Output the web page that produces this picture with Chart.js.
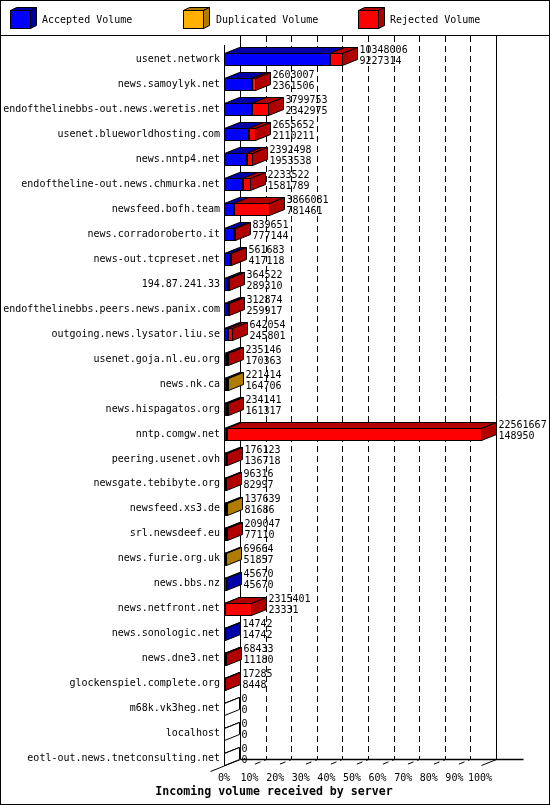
<!DOCTYPE html>
<html>
<head>
<meta charset="utf-8">
<script src="https://cdn.jsdelivr.net/npm/chart.js@4/dist/chart.umd.min.js"></script>
<style>
html,body{margin:0;padding:0;background:#fff;}
canvas{display:block;}
</style>
</head>
<body>
<canvas id="c" width="550" height="805"></canvas>
<script>
const servers = [
  "usenet.network",
  "news.samoylyk.net",
  "endofthelinebbs-out.news.weretis.net",
  "usenet.blueworldhosting.com",
  "news.nntp4.net",
  "endoftheline-out.news.chmurka.net",
  "newsfeed.bofh.team",
  "news.corradoroberto.it",
  "news-out.tcpreset.net",
  "194.87.241.33",
  "endofthelinebbs.peers.news.panix.com",
  "outgoing.news.lysator.liu.se",
  "usenet.goja.nl.eu.org",
  "news.nk.ca",
  "news.hispagatos.org",
  "nntp.comgw.net",
  "peering.usenet.ovh",
  "newsgate.tebibyte.org",
  "newsfeed.xs3.de",
  "srl.newsdeef.eu",
  "news.furie.org.uk",
  "news.bbs.nz",
  "news.netfront.net",
  "news.sonologic.net",
  "news.dne3.net",
  "glockenspiel.complete.org",
  "m68k.vk3heg.net",
  "localhost",
  "eotl-out.news.tnetconsulting.net"
];
const offered = [10348006, 2603007, 3799753, 2655652, 2392498, 2233522, 3866081, 839651, 561683, 364522,
  312874, 642054, 235146, 221414, 234141, 22561667, 176123, 96316, 137639, 209047,
  69664, 45670, 2315401, 14742, 68433, 17285, 0, 0, 0];
const accepted = [9227314, 2361506, 2342975, 2110211, 1953538, 1581789, 781461, 777144, 417118, 289310,
  259917, 245801, 170363, 164706, 161317, 148950, 136718, 82997, 81686, 77110,
  51857, 45670, 23331, 14742, 11180, 8448, 0, 0, 0];
const duplicated = [0, 0, 0, 0, 0, 0, 0, 0, 0, 0,
  0, 0, 0, 56708, 0, 0, 0, 0, 55953, 0,
  17807, 0, 0, 0, 0, 0, 0, 0, 0];
const rejected = [1120692, 241501, 1456778, 545441, 438960, 651733, 3084620, 62507, 144565, 75212,
  52957, 396253, 64783, 0, 72824, 22412717, 39405, 13319, 0, 131937,
  0, 0, 2292070, 0, 57253, 8837, 0, 0, 0];
const seriesNames = ["Accepted Volume", "Duplicated Volume", "Rejected Volume"];
const xTickLabels = ["0%", "10%", "20%", "30%", "40%", "50%", "60%", "70%", "80%", "90%", "100%"];
const axisTitle = "Incoming volume received by server";

const FRONT = ["#0000ff", "#ffb000", "#ff0000"];
const DARK = ["#0000a8", "#b07c00", "#b00000"];
const MONO = "10px 'DejaVu Sans Mono', monospace";
const XMAX = Math.max(...offered);
const DX = 15, DY = -6, HALF = 6;

function poly(ctx, pts, fill) {
  ctx.beginPath();
  ctx.moveTo(pts[0][0], pts[0][1]);
  for (let i = 1; i < pts.length; i++) ctx.lineTo(pts[i][0], pts[i][1]);
  ctx.closePath();
  if (fill) { ctx.fillStyle = fill; ctx.fill(); }
  ctx.strokeStyle = "#000";
  ctx.lineWidth = 1;
  ctx.stroke();
}
function line(ctx, x1, y1, x2, y2, w, dash) {
  ctx.save();
  ctx.beginPath();
  ctx.setLineDash(dash || []);
  ctx.lineWidth = w || 1;
  ctx.strokeStyle = "#000";
  ctx.moveTo(x1, y1); ctx.lineTo(x2, y2);
  ctx.stroke();
  ctx.restore();
}
const r = v => Math.round(v) + 0.5;

const deco = {
  id: "deco",
  beforeDraw(chart) {
    const ctx = chart.ctx;
    ctx.save();
    ctx.fillStyle = "#fff";
    ctx.fillRect(0, 0, chart.width, chart.height);
    ctx.restore();
  },
  beforeDatasetsDraw(chart) {
    const ctx = chart.ctx, xs = chart.scales.x, ys = chart.scales.y;
    const n = servers.length;
    const x0 = r(xs.getPixelForValue(0));
    const x100 = r(xs.getPixelForValue(XMAX));
    const floorF = Math.round(ys.getPixelForValue(n - 1) + HALF) + 0.5;
    const floorB = floorF + DY;
    const wallTop = 36;
    ctx.save();
    // dashed grid on back wall and floor
    for (let k = 1; k < 10; k++) {
      const xf = r(xs.getPixelForValue(XMAX * k / 10));
      const xb = xf + DX;
      ctx.save();
      ctx.beginPath();
      ctx.setLineDash([6, 4]);
      ctx.strokeStyle = "#000";
      ctx.lineWidth = 1;
      ctx.moveTo(xb, wallTop); ctx.lineTo(xb, floorB); ctx.lineTo(xf, floorF);
      ctx.stroke();
      ctx.restore();
    }
    // back wall, right wall, front left axis
    line(ctx, x0 + DX, wallTop, x0 + DX, floorB);
    line(ctx, x100 + DX, wallTop, x100 + DX, floorB);
    line(ctx, x0 - 1, 45, x0 - 1, floorF);
    // floor back line
    line(ctx, x0 + DX, floorB, x100 + DX + 27, floorB, 1.5);
    // floor edges
    line(ctx, x0 + DX, floorB, x0 - DX, floorF - DY);
    line(ctx, x100 + DX, floorB, x100, floorF);
    // x tick labels
    ctx.fillStyle = "#000";
    ctx.font = MONO;
    ctx.textAlign = "center";
    ctx.textBaseline = "middle";
    for (let k = 0; k <= 10; k++) {
      const xf = xs.getPixelForValue(XMAX * k / 10);
      ctx.fillText(xTickLabels[k], xf - 1, floorF + 12.5);
    }
    ctx.font = "bold 11.6px 'DejaVu Sans Mono', monospace";
    ctx.fillText(axisTitle, 274, floorF + 26.5);
    ctx.restore();
  },
  afterDatasetsDraw(chart) {
    const ctx = chart.ctx, xs = chart.scales.x, ys = chart.scales.y;
    const n = servers.length;
    const sets = [accepted, duplicated, rejected];
    ctx.save();
    for (let i = 0; i < n; i++) {
      const c = ys.getPixelForValue(i);
      const top = Math.round(c - HALF) + 0.5, bot = Math.round(c + HALF) + 0.5;
      let end = r(xs.getPixelForValue(0)) - 1;
      let last = -1;
      for (let d = 0; d < 3; d++) {
        if (sets[d][i] <= 0) continue;
        const el = chart.getDatasetMeta(d).data[i];
        const a = Math.round(Math.min(el.base, el.x)) - 0.5;
        const b = Math.round(Math.max(el.base, el.x)) + 0.5;
        poly(ctx, [[a, top], [b, top], [b + DX, top + DY], [a + DX, top + DY]], DARK[d]);
        ctx.strokeStyle = "#000"; ctx.lineWidth = 1;
        ctx.strokeRect(a, top, b - a, bot - top);
        end = b; last = d;
      }
      if (last < 0) {
        poly(ctx, [[end, top], [end + DX, top + DY]], null);
      }
      poly(ctx, [[end, top], [end + DX, top + DY], [end + DX, bot + DY], [end, bot]], last >= 0 ? DARK[last] : "#fff");
      // value labels
      ctx.fillStyle = "#000";
      ctx.font = MONO;
      ctx.textAlign = "left";
      ctx.textBaseline = "middle";
      ctx.fillText(String(offered[i]), end + DX + 2, c - 9);
      ctx.fillText(String(accepted[i]), end + DX + 2, c + 2);
    }
    ctx.restore();
  },
  afterDraw(chart) {
    const ctx = chart.ctx;
    ctx.save();
    // legend
    const lx = [10, 183, 358], tx = [42, 216, 390];
    for (let d = 0; d < 3; d++) {
      const x = lx[d] + 0.5, y = 10.5, w = 20, h = 18, dx = 6, dy = -3;
      poly(ctx, [[x, y], [x + dx, y + dy], [x + w + dx, y + dy], [x + w, y]], DARK[d]);
      poly(ctx, [[x + w, y], [x + w + dx, y + dy], [x + w + dx, y + h + dy], [x + w, y + h]], DARK[d]);
      ctx.fillStyle = FRONT[d];
      ctx.fillRect(x, y, w, h);
      ctx.strokeStyle = "#000"; ctx.lineWidth = 1;
      ctx.strokeRect(x, y, w, h);
      ctx.fillStyle = "#000";
      ctx.font = MONO;
      ctx.textAlign = "left";
      ctx.textBaseline = "middle";
      ctx.fillText(seriesNames[d], tx[d], 20);
    }
    line(ctx, 0, 35.5, 550, 35.5, 1);
    ctx.strokeStyle = "#000"; ctx.lineWidth = 1;
    ctx.strokeRect(0.5, 0.5, 549, 804);
    ctx.restore();
  }
};

new Chart(document.getElementById("c"), {
  type: "bar",
  data: {
    labels: servers,
    datasets: [
      { label: seriesNames[0], data: accepted, backgroundColor: FRONT[0] },
      { label: seriesNames[1], data: duplicated, backgroundColor: FRONT[1] },
      { label: seriesNames[2], data: rejected, backgroundColor: FRONT[2] }
    ]
  },
  options: {
    indexAxis: "y",
    responsive: false,
    animation: false,
    devicePixelRatio: 1,
    layout: { padding: { top: 47, bottom: 34, left: 0, right: 69 } },
    datasets: { bar: { barThickness: 12, borderWidth: 0, borderSkipped: false } },
    plugins: { legend: { display: false }, tooltip: { enabled: false } },
    scales: {
      x: { stacked: true, display: false, min: 0, max: XMAX },
      y: {
        stacked: true,
        grid: { display: false, drawTicks: false },
        border: { display: false },
        ticks: { autoSkip: false, padding: 5, color: "#000", font: { family: "'DejaVu Sans Mono', monospace", size: 10 } },
        afterFit(s) { s.width = 225; }
      }
    }
  },
  plugins: [deco]
});
</script>
</body>
</html>
